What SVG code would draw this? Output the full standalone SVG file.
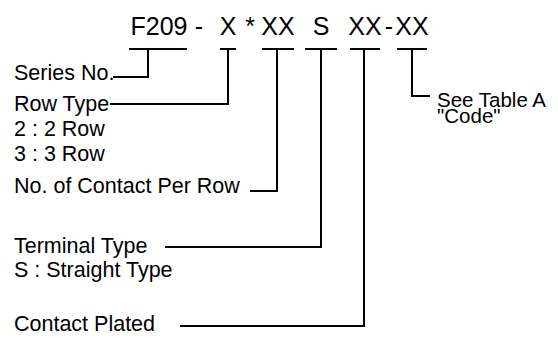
<svg xmlns="http://www.w3.org/2000/svg" width="558" height="338" viewBox="0 0 558 338">
<style>
text{font-family:"Liberation Sans",Arial,sans-serif;fill:#000}
.t{font-size:25px;text-anchor:middle}
.l{font-size:21.5px}
.r{font-size:20.5px}
.c{stroke:#000;stroke-width:2;fill:none}
</style>
<rect width="558" height="338" fill="#fff"/>
<g id="title">
<text class="t" x="159" y="35">F209</text>
<text class="t" x="199" y="35">-</text>
<text class="t" x="228" y="35">X</text>
<text class="t" x="250" y="35">*</text>
<text class="t" x="278" y="35">XX</text>
<text class="t" x="321" y="35">S</text>
<text class="t" x="365" y="35">XX</text>
<text class="t" x="389" y="35">-</text>
<text class="t" x="412" y="35">XX</text>
</g>
<g id="series"><text class="l" x="14" y="80">Series No.</text></g>
<g id="rowtype"><text class="l" x="14" y="111">Row Type</text><text class="l" x="14" y="136">2 : 2 Row</text><text class="l" x="14" y="161">3 : 3 Row</text></g>
<g id="contacts"><text class="l" x="14" y="193">No. of Contact Per Row</text></g>
<g id="terminal"><text class="l" x="14" y="253">Terminal Type</text><text class="l" x="14" y="277">S : Straight Type</text></g>
<g id="plated"><text class="l" x="14" y="331">Contact Plated</text></g>
<g id="code"><text class="r" x="437" y="107">See Table A</text><text class="r" x="437" y="123">"Code"</text></g>
<g id="connectors" class="c">
<path d="M129 49H187M148 49V77H113"/>
<path d="M220 49H236M228 49V104H110"/>
<path d="M262 49H294M277 49V191H250"/>
<path d="M305 49H337M321 49V247H165"/>
<path d="M350 49H380M364 49V326H180"/>
<path d="M397 49H427M412 49V96H430"/>
</g>
</svg>
